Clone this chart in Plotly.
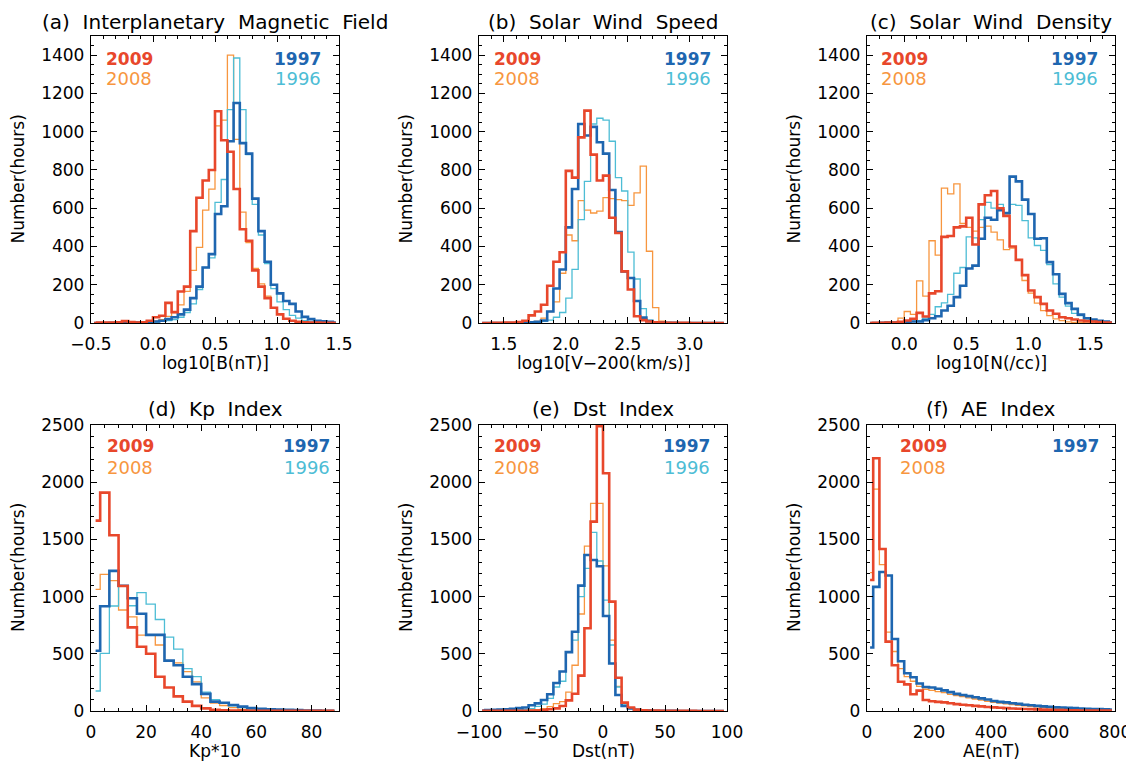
import numpy as np
import plotly.graph_objects as go

OFF = 8  # page body margin of the written html
W, H = 1134, 765
FONT = "DejaVu Sans"

# ---------------- data (hours per bin) ----------------
# (a) IMF: bins of 0.05 in log10 B, from -0.5 to 1.5
imf_x = np.round(-0.475 + 0.05 * np.arange(40), 4)
imf_2009 = [0, 2, 2, 3, 4, 10, 5, 3, 4, 12, 30, 38, 105, 57, 165, 190, 480, 655, 745, 800,
            1107, 955, 895, 700, 490, 430, 275, 190, 130, 80, 45, 22, 12, 6, 4, 3, 2, 1, 1, 0]
imf_2008 = [0, 0, 1, 1, 2, 3, 2, 3, 3, 5, 10, 18, 35, 55, 95, 165, 275, 395, 590, 700,
            1030, 1060, 1400, 960, 580, 420, 285, 205, 140, 80, 45, 22, 12, 6, 3, 2, 1, 1, 0, 0]
imf_1997 = [0, 0, 0, 1, 1, 2, 2, 3, 3, 5, 8, 12, 20, 30, 45, 70, 130, 190, 290, 360,
            570, 610, 950, 1150, 940, 885, 650, 480, 320, 200, 155, 115, 100, 60, 32, 20, 12, 9, 6, 3]
imf_1996 = [0, 0, 0, 0, 1, 1, 2, 2, 3, 4, 5, 8, 12, 18, 30, 55, 100, 175, 290, 340,
            630, 750, 1115, 1385, 1115, 880, 620, 460, 310, 180, 110, 70, 40, 25, 12, 6, 3, 2, 1, 1]

# (b) Solar wind speed: bins of 0.05 in log10(V-200), from 1.3 to 3.3
sw_x = np.round(1.325 + 0.05 * np.arange(40), 4)
sw_2009 = [0, 0, 1, 1, 2, 3, 5, 12, 40, 60, 95, 195, 320, 370, 795, 760, 970, 1110, 880, 745,
           770, 550, 470, 270, 175, 35, 15, 8, 4, 2, 1, 1, 1, 1, 0, 0, 0, 0, 0, 0]
sw_2008 = [0, 0, 0, 0, 0, 1, 1, 2, 4, 8, 25, 60, 110, 260, 460, 430, 640, 590, 575, 585,
           655, 650, 645, 640, 615, 680, 820, 375, 80, 10, 3, 1, 1, 0, 0, 0, 0, 0, 0, 0]
sw_1997 = [0, 0, 0, 0, 0, 0, 1, 2, 4, 6, 13, 60, 180, 280, 500, 700, 1040, 980, 1025, 945,
           885, 695, 475, 270, 235, 115, 28, 10, 4, 2, 1, 1, 0, 0, 0, 0, 0, 0, 0, 0]
sw_1996 = [0, 0, 0, 0, 0, 0, 0, 1, 2, 4, 8, 15, 30, 55, 130, 280, 540, 740, 1040, 1070,
           1060, 950, 760, 690, 370, 230, 75, 15, 5, 2, 1, 0, 0, 0, 0, 0, 0, 0, 0, 0]

# (c) Solar wind density: bins of 0.05 in log10 N, from -0.3 to 1.7
dn_x = np.round(-0.275 + 0.05 * np.arange(40), 4)
dn_2009 = [0, 1, 1, 2, 3, 6, 13, 22, 53, 34, 155, 166, 450, 455, 500, 505, 550, 410, 620, 668,
           690, 600, 560, 400, 330, 250, 170, 135, 100, 65, 48, 30, 25, 18, 13, 10, 8, 5, 3, 2]
dn_2008 = [1, 2, 2, 3, 5, 25, 60, 45, 220, 140, 430, 355, 705, 675, 727, 520, 500, 480, 500, 506,
           475, 434, 384, 391, 327, 222, 156, 104, 65, 39, 22, 12, 6, 3, 2, 1, 1, 0, 0, 0]
dn_1997 = [0, 0, 1, 2, 3, 3, 5, 8, 8, 15, 25, 35, 65, 90, 135, 195, 285, 300, 440, 550,
           540, 590, 575, 765, 740, 645, 570, 440, 443, 318, 255, 152, 104, 74, 44, 25, 18, 12, 8, 4]
dn_1996 = [0, 0, 1, 1, 2, 3, 5, 8, 12, 25, 45, 85, 105, 150, 260, 290, 450, 445, 540, 630,
           600, 620, 565, 620, 615, 535, 445, 405, 380, 305, 205, 135, 88, 50, 39, 22, 15, 10, 5, 3]

# (d) Kp*10: one bin per Kp third
kp_x = np.round((np.arange(27) + 0.5) * 10.0 / 3.0, 4)
kp_2009 = [1664, 1909, 1536, 1093, 731, 562, 500, 300, 205, 128, 82, 45, 23, 10, 6, 4, 3, 2, 2, 1,
           1, 1, 1, 1, 1, 1, 1]
kp_2008 = [1064, 1195, 1140, 883, 822, 664, 664, 577, 435, 420, 345, 255, 115, 70, 48, 30, 15, 10, 6, 4,
           3, 2, 1, 1, 1, 0, 0]
kp_1997 = [527, 915, 1225, 1095, 985, 850, 665, 665, 440, 400, 300, 235, 150, 82, 72, 52, 38, 25, 20, 15,
           12, 10, 8, 5, 3, 2, 1]
kp_1996 = [175, 504, 918, 1095, 920, 1035, 935, 800, 645, 540, 370, 300, 165, 100, 73, 44, 30, 20, 14, 10,
           6, 4, 3, 2, 1, 1, 0]

# (e) Dst: bins of 5 nT from -100 to 100
dst_x = -97.5 + 5.0 * np.arange(40)
dst_2009 = [1, 1, 1, 1, 1, 1, 2, 2, 3, 5, 8, 15, 23, 44, 93, 151, 309, 723, 1655, 2490,
            2078, 956, 290, 73, 30, 12, 6, 4, 3, 2, 1, 1, 1, 1, 1, 0, 0, 0, 0, 0]
dst_2008 = [1, 1, 1, 2, 2, 3, 4, 5, 8, 12, 20, 38, 65, 82, 165, 400, 848, 1442, 1815, 1815,
            1268, 620, 215, 70, 25, 10, 5, 3, 2, 1, 1, 1, 1, 0, 0, 0, 0, 0, 0, 0]
dst_1997 = [5, 8, 10, 12, 15, 20, 25, 30, 50, 67, 96, 146, 245, 345, 515, 693, 1096, 1364, 1320, 1265,
            830, 415, 140, 44, 23, 10, 5, 3, 2, 1, 1, 1, 0, 0, 0, 0, 0, 0, 0, 0]
dst_1996 = [2, 3, 4, 5, 6, 8, 10, 12, 20, 40, 60, 110, 210, 260, 519, 620, 1000, 1247, 1562, 1311,
            970, 577, 210, 60, 20, 8, 4, 2, 1, 1, 0, 0, 0, 0, 0, 0, 0, 0, 0, 0]

# (f) AE: bins of 20 nT from 0 to 800
ae_x = 10.0 + 20.0 * np.arange(40)
ae_2009 = [1145, 2209, 1416, 606, 400, 256, 233, 146, 178, 96, 85, 80, 75, 68, 60, 55, 50, 45, 40, 35,
           32, 28, 25, 22, 20, 18, 16, 14, 12, 10, 9, 8, 7, 6, 5, 5, 4, 4, 3, 3]
ae_2008 = [1210, 1940, 1280, 690, 520, 370, 300, 260, 215, 190, 180, 170, 160, 145, 135, 125, 115, 105, 95, 85,
           75, 70, 62, 55, 50, 45, 40, 36, 32, 28, 25, 22, 20, 18, 16, 14, 12, 10, 9, 8]
ae_1997 = [555, 1085, 1215, 1185, 630, 435, 330, 295, 240, 210, 205, 195, 180, 165, 150, 140, 130, 120, 110, 100,
           88, 80, 75, 68, 62, 55, 50, 45, 40, 36, 32, 30, 28, 25, 22, 20, 18, 16, 14, 12]

# ---------------- styling ----------------
COL = {"2009": "#E8472B", "2008": "#F7963F", "1997": "#1E66B0", "1996": "#4DBDD5"}
WID = {"2009": 2.6, "2008": 1.3, "1997": 2.6, "1996": 1.3}
ORDER = ["2008", "1996", "1997", "2009"]
SP = " \u00a0"

# target positions, in page pixels
cols_px = [(91, 339), (479, 727), (867, 1115)]
rows_px = [(36, 323), (425, 711)]


def fx(px):
    return (px - OFF) / W


def fy(py):
    return 1 - (py - OFF) / H


panels = [
    dict(x=imf_x, s={"2009": imf_2009, "2008": imf_2008, "1997": imf_1997, "1996": imf_1996},
         xr=[-0.5, 1.5], xd=0.5, xm=0.1, yr=[0, 1500], yd=200, ym=50, fmt=".1f",
         title="(a)" + SP + "Interplanetary" + SP + "Magnetic" + SP + "Field", xt="log10[B(nT)]",
         c=0, r=0, lx=104, rx=323),
    dict(x=sw_x, s={"2009": sw_2009, "2008": sw_2008, "1997": sw_1997, "1996": sw_1996},
         xr=[1.3, 3.3], xd=0.5, xm=0.1, yr=[0, 1500], yd=200, ym=50, fmt=".1f",
         title="(b)" + SP + "Solar" + SP + "Wind" + SP + "Speed", xt="log10[V\u2212200(km/s)]",
         c=1, r=0, lx=492, rx=713),
    dict(x=dn_x, s={"2009": dn_2009, "2008": dn_2008, "1997": dn_1997, "1996": dn_1996},
         xr=[-0.3, 1.7], xd=0.5, xm=0.1, yr=[0, 1500], yd=200, ym=50, fmt=".1f",
         title="(c)" + SP + "Solar" + SP + "Wind" + SP + "Density", xt="log10[N(/cc)]",
         c=2, r=0, lx=879, rx=1100),
    dict(x=kp_x, s={"2009": kp_2009, "2008": kp_2008, "1997": kp_1997, "1996": kp_1996},
         xr=[0, 90], xd=20, xm=5, yr=[0, 2500], yd=500, ym=100, fmt="",
         title="(d)" + SP + "Kp" + SP + "Index", xt="Kp*10",
         c=0, r=1, lx=105, rx=332),
    dict(x=dst_x, s={"2009": dst_2009, "2008": dst_2008, "1997": dst_1997, "1996": dst_1996},
         xr=[-100, 100], xd=50, xm=10, yr=[0, 2500], yd=500, ym=100, fmt="",
         title="(e)" + SP + "Dst" + SP + "Index", xt="Dst(nT)",
         c=1, r=1, lx=492, rx=712),
    dict(x=ae_x, s={"2009": ae_2009, "2008": ae_2008, "1997": ae_1997},
         xr=[0, 800], xd=200, xm=50, yr=[0, 2500], yd=500, ym=100, fmt="",
         title="(f)" + SP + "AE" + SP + "Index", xt="AE(nT)",
         c=2, r=1, lx=898, rx=1101),
]

fig = go.Figure()
annotations = []
layout = {}


def note(px, py, text, size, color="black", xanchor="center", angle=0):
    return dict(x=fx(px), y=fy(py), xref="paper", yref="paper", text=text,
                showarrow=False, xanchor=xanchor, yanchor="middle", textangle=angle,
                font=dict(family=FONT, size=size, color=color))


for i, p in enumerate(panels):
    n = "" if i == 0 else str(i + 1)
    xa, ya = "x" + n, "y" + n
    x0, x1 = cols_px[p["c"]]
    y0, y1 = rows_px[p["r"]]
    for yr in ORDER:
        if yr not in p["s"]:
            continue
        fig.add_trace(go.Scatter(
            x=p["x"], y=p["s"][yr], mode="lines", xaxis=xa, yaxis=ya,
            line=dict(color=COL[yr], width=WID[yr], shape="hvh"),
            hoverinfo="skip", showlegend=False))
    common = dict(showline=True, linecolor="black", linewidth=1.4, mirror="ticks",
                  ticks="inside", ticklen=6, tickwidth=1.2, tickcolor="black",
                  showgrid=False, zeroline=False, automargin=False,
                  tickfont=dict(family=FONT, size=17, color="black"))
    layout["xaxis" + n] = dict(common, domain=[fx(x0), fx(x1)], range=p["xr"], anchor=ya,
                               dtick=p["xd"], tick0=0, tickformat=p["fmt"],
                               ticklabelstandoff=5, ticklabeloverflow="allow",
                               minor=dict(ticks="inside", ticklen=3, tickwidth=1,
                                          tickcolor="black", dtick=p["xm"], showgrid=False))
    layout["yaxis" + n] = dict(common, domain=[fy(y1), fy(y0)], range=p["yr"], anchor=xa,
                               dtick=p["yd"], tick0=0, ticklabelstandoff=2,
                               minor=dict(ticks="inside", ticklen=3, tickwidth=1,
                                          tickcolor="black", dtick=p["ym"], showgrid=False))
    cx = (x0 + x1) / 2
    cy = (y0 + y1) / 2
    ty = 22 if p["r"] == 0 else 409
    annotations.append(note(cx, ty, p["title"], 20))
    annotations.append(note(cx, y1 + 40, p["xt"], 17))
    annotations.append(note(x0 - 73, cy, "Number(hours)", 17, angle=-90))
    ya1 = 59 if p["r"] == 0 else 446.5
    ya2 = 78.5 if p["r"] == 0 else 467
    annotations.append(note(p["lx"], ya1, "<b>2009</b>", 17, COL["2009"], "left"))
    annotations.append(note(p["lx"], ya2, "2008", 18, COL["2008"], "left"))
    annotations.append(note(p["rx"], ya1, "<b>1997</b>", 17, COL["1997"], "right"))
    if "1996" in p["s"]:
        annotations.append(note(p["rx"], ya2, "1996", 18, COL["1996"], "right"))

fig.update_layout(width=W, height=H, margin=dict(l=0, r=0, t=0, b=0, pad=0),
                  paper_bgcolor="white", plot_bgcolor="white", showlegend=False,
                  annotations=annotations, **layout)

fig.write_html("out.html")
